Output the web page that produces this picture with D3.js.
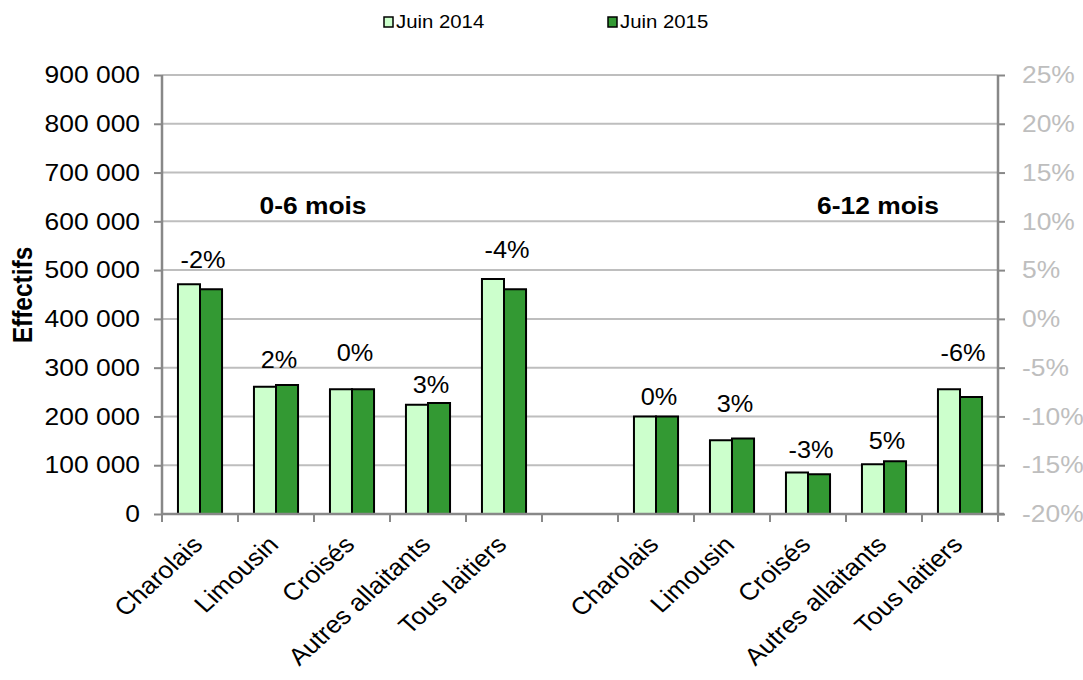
<!DOCTYPE html>
<html>
<head>
<meta charset="utf-8">
<script src="https://cdn.jsdelivr.net/npm/d3@7"></script>
<style>
  html, body { margin: 0; padding: 0; background: #ffffff; }
  svg { display: block; font-family: "Liberation Sans", Arial, sans-serif; }
</style>
</head>
<body>
<script>
// ---------- data ----------
const categories = ["Charolais", "Limousin", "Croisés", "Autres allaitants", "Tous laitiers"];
const groups = ["0-6 mois", "6-12 mois"];
const seriesNames = ["Juin 2014", "Juin 2015"];
const juin2014 = [471000, 261000, 256000, 224000, 482000, 200000, 151000, 85000, 102000, 256000];
const juin2015 = [461000, 264500, 256000, 227500, 461000, 200000, 155000, 81500, 108000, 240000];
const pctLabels = ["-2%", "2%", "0%", "3%", "-4%", "0%", "3%", "-3%", "5%", "-6%"];
const labelAnchor = [520000, 316000, 330000, 264500, 541000, 240000, 225500, 131000, 149500, 330000];
const leftTicks = [0, 100000, 200000, 300000, 400000, 500000, 600000, 700000, 800000, 900000];
const rightTicks = [-0.20, -0.15, -0.10, -0.05, 0, 0.05, 0.10, 0.15, 0.20, 0.25];

// ---------- layout ----------
const W = 1083, H = 680;
const S = 1.1; // horizontal stretch of the reference rendering
const L = 162, R = 998, T = 75, B = 514;
const colLight = "#CCFFCC", colDark = "#339933";
const gridCol = "#BEBEBE", axisCol = "#888888";
const FS = 24;

const svg = d3.select("body").append("svg")
  .attr("width", W).attr("height", H)
  .attr("viewBox", `0 0 ${W / S} ${H}`)
  .attr("preserveAspectRatio", "none");

const slots = [...categories.map(c => "a|" + c), "gap", ...categories.map(c => "b|" + c)];
const dataSlots = [...categories.map(c => "a|" + c), ...categories.map(c => "b|" + c)];

const x = d3.scaleBand().domain(slots).range([L / S, R / S]).paddingInner(0).paddingOuter(0);
const sub = d3.scaleBand().domain(seriesNames)
  .range([x.bandwidth() * 0.21, x.bandwidth() * 0.79]).padding(0);
const y = d3.scaleLinear().domain([0, 900000]).range([B, T]);
const yR = d3.scaleLinear().domain([-0.20, 0.25]).range([B, T]);

const locale = d3.formatLocale({ decimal: ",", thousands: "\u00a0", grouping: [3], currency: ["", "€"] });
const fmt = locale.format(",");

// gridlines
svg.append("g").selectAll("line").data(leftTicks.filter(d => d > 0)).join("line")
  .attr("x1", L / S).attr("x2", R / S)
  .attr("y1", d => y(d)).attr("y2", d => y(d))
  .attr("stroke", gridCol).attr("stroke-width", 2)
  .attr("vector-effect", "non-scaling-stroke");

// bars
const rows = dataSlots.map((s, i) => ({ slot: s, v: [juin2014[i], juin2015[i]] }));
const gBars = svg.append("g");
rows.forEach(r => {
  gBars.selectAll(null).data(seriesNames.map((n, j) => ({ n, v: r.v[j] }))).join("rect")
    .attr("x", d => x(r.slot) + sub(d.n))
    .attr("width", sub.bandwidth())
    .attr("y", d => y(d.v))
    .attr("height", d => y(0) - y(d.v))
    .attr("fill", d => d.n === seriesNames[0] ? colLight : colDark)
    .attr("stroke", "#000").attr("stroke-width", 2)
    .attr("vector-effect", "non-scaling-stroke");
});

// left axis
const axL = svg.append("g").attr("transform", `translate(${L / S},0)`)
  .call(d3.axisLeft(y).tickValues(leftTicks).tickFormat(fmt).tickSize(8 / S).tickPadding(14 / S));
axL.select(".domain").remove();
axL.selectAll(".tick line").attr("stroke", axisCol).attr("stroke-width", 2).attr("vector-effect", "non-scaling-stroke");
axL.selectAll(".tick text").attr("font-size", FS).attr("fill", "#000")
  .attr("font-family", "Liberation Sans, Arial, sans-serif");
svg.append("line").attr("x1", L / S).attr("x2", L / S).attr("y1", T).attr("y2", B + 1)
  .attr("stroke", axisCol).attr("stroke-width", 2.5).attr("vector-effect", "non-scaling-stroke");

// right axis
const axR = svg.append("g").attr("transform", `translate(${R / S},0)`)
  .call(d3.axisRight(yR).tickValues(rightTicks).tickFormat(d => Math.round(d * 100) + "%")
    .tickSize(7 / S).tickPadding(17 / S));
axR.select(".domain").remove();
axR.selectAll(".tick line").attr("stroke", axisCol).attr("stroke-width", 2).attr("vector-effect", "non-scaling-stroke");
axR.selectAll(".tick text").attr("font-size", FS).attr("fill", "#BEBEBE")
  .attr("font-family", "Liberation Sans, Arial, sans-serif");
svg.append("line").attr("x1", R / S).attr("x2", R / S).attr("y1", T).attr("y2", B + 1)
  .attr("stroke", axisCol).attr("stroke-width", 2.5).attr("vector-effect", "non-scaling-stroke");

// bottom axis
svg.append("line").attr("x1", L / S).attr("x2", R / S + 6 / S).attr("y1", B).attr("y2", B)
  .attr("stroke", axisCol).attr("stroke-width", 2.5).attr("vector-effect", "non-scaling-stroke");
const bounds = slots.map(s => x(s)).concat([x(slots[slots.length - 1]) + x.step()]);
svg.append("g").selectAll("line").data(bounds).join("line")
  .attr("x1", d => d).attr("x2", d => d).attr("y1", B).attr("y2", B + 8)
  .attr("stroke", axisCol).attr("stroke-width", 2).attr("vector-effect", "non-scaling-stroke");

// category labels
svg.append("g").selectAll("text").data(dataSlots).join("text")
  .attr("transform", d => `translate(${x(d) + x.bandwidth() / 2 + 4 / S},${B + 32}) rotate(-45)`)
  .attr("text-anchor", "end")
  .attr("font-size", FS).attr("fill", "#000")
  .text(d => d.split("|")[1]);

// percent labels
svg.append("g").selectAll("text").data(dataSlots).join("text")
  .attr("x", (d, i) => x(d) + x.bandwidth() / 2 + 3 / S)
  .attr("y", (d, i) => y(labelAnchor[i]))
  .attr("text-anchor", "middle").attr("dominant-baseline", "central")
  .attr("font-size", 23).attr("fill", "#000")
  .text((d, i) => pctLabels[i]);

// group titles
const groupCenters = [313, 878];
svg.append("g").selectAll("text").data(groups).join("text")
  .attr("x", (d, i) => groupCenters[i] / S).attr("y", 214)
  .attr("text-anchor", "middle").attr("font-weight", "bold")
  .attr("font-size", FS).attr("fill", "#000")
  .text(d => d);

// y title
svg.append("text")
  .attr("transform", `translate(${23 / S},295) rotate(-90)`)
  .attr("text-anchor", "middle").attr("dominant-baseline", "central")
  .attr("font-weight", "bold").attr("font-size", 24.5).attr("fill", "#000")
  .text("Effectifs");

// legend
const legX = [384, 608];
const leg = svg.append("g").selectAll("g").data(seriesNames).join("g");
leg.append("rect")
  .attr("x", (d, i) => legX[i] / S).attr("y", 17)
  .attr("width", 9 / S).attr("height", 10)
  .attr("fill", (d, i) => i === 0 ? colLight : colDark)
  .attr("stroke", "#000").attr("stroke-width", 1.5)
  .attr("vector-effect", "non-scaling-stroke");
leg.append("text")
  .attr("x", (d, i) => (legX[i] + 12) / S).attr("y", 28.5)
  .attr("font-size", 18.5).attr("fill", "#000")
  .text(d => d);
</script>
</body>
</html>
